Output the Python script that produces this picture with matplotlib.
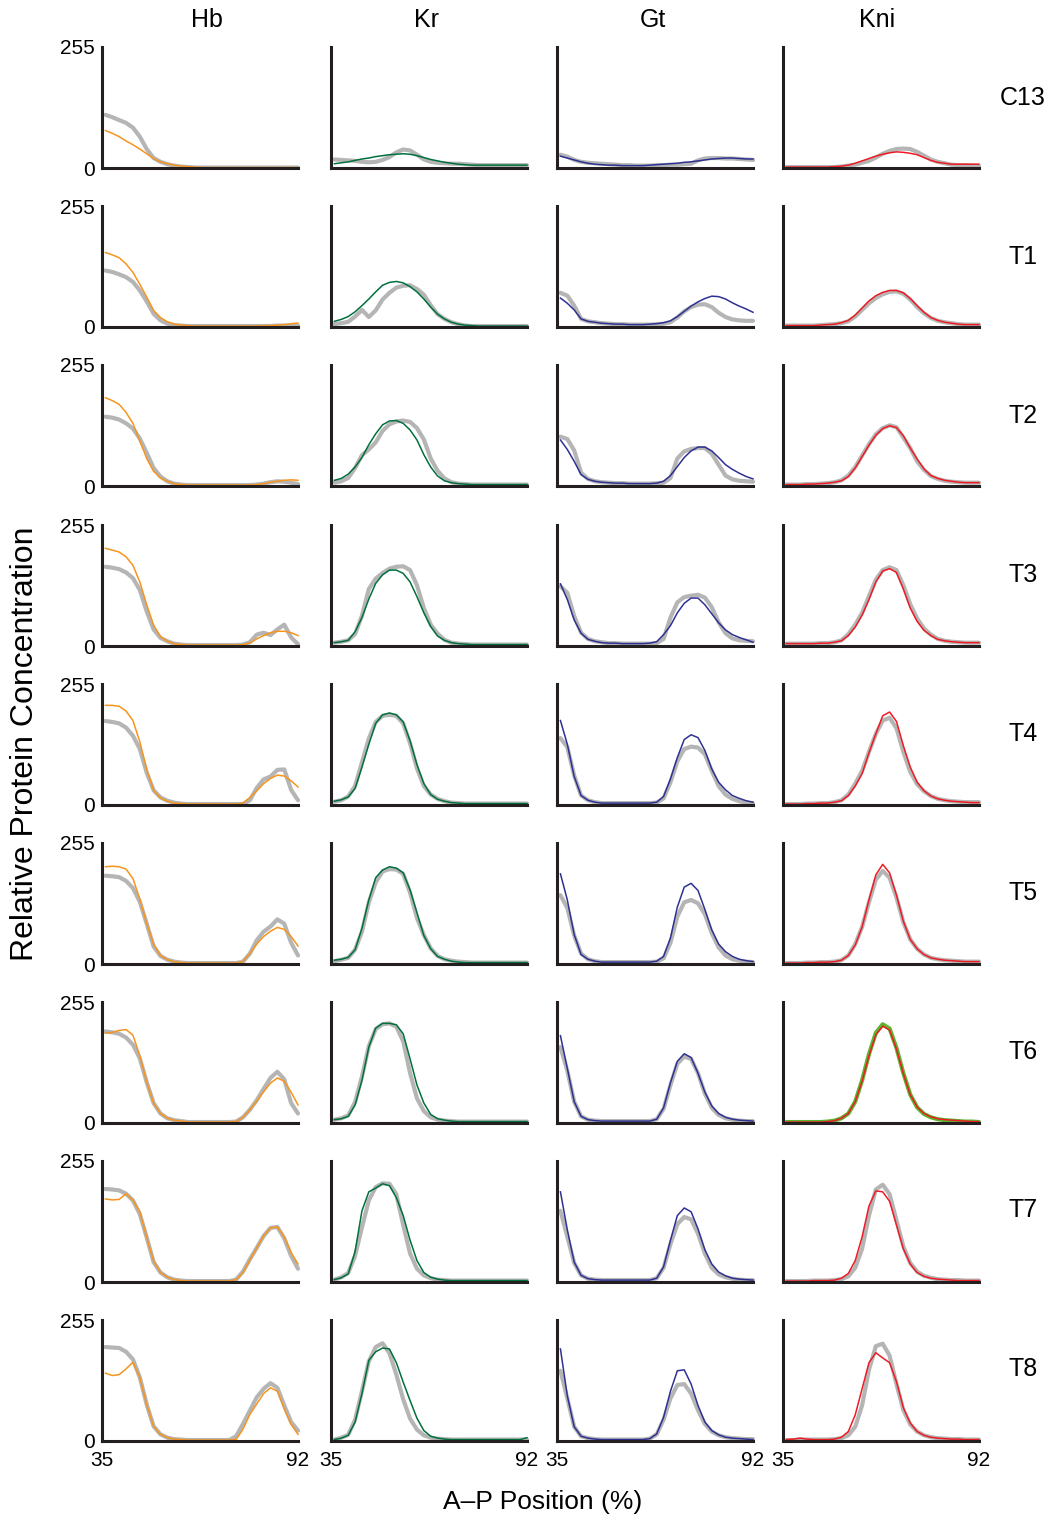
import matplotlib
matplotlib.use("Agg")
import matplotlib.pyplot as plt

plt.rcParams["font.family"] = ["Liberation Sans", "DejaVu Sans"]

# A-P position (%) of the sampled points
POS = [36, 38, 40, 42, 44, 46, 48, 50, 52, 54, 56, 58, 60, 62, 64,
       66, 68, 70, 72, 74, 76, 78, 80, 82, 84, 86, 88, 90, 92]

STAGES = ["C13", "T1", "T2", "T3", "T4", "T5", "T6", "T7", "T8"]
GENES = ["Hb", "Kr", "Gt", "Kni"]

# measured data (gray) and model output (coloured), one list per stage
HB_DATA = {
    "C13": [112, 107, 101, 95, 85, 66, 40, 21, 13, 8, 5, 3, 2, 1, 1, 1, 1, 1, 1, 1, 1, 1, 1, 1, 1, 1, 1, 1, 1],
    "T1": [119, 116, 111, 105, 95, 77, 54, 28, 14, 7, 4, 3, 2, 2, 2, 2, 2, 2, 2, 2, 2, 2, 2, 2, 2, 3, 3, 3, 3],
    "T2": [146, 144, 140, 132, 121, 100, 70, 38, 20, 10, 5, 3, 2, 2, 2, 2, 2, 2, 2, 2, 2, 2, 3, 5, 8, 10, 9, 7, 4],
    "T3": [167, 165, 162, 155, 143, 118, 73, 35, 17, 10, 5, 3, 2, 2, 2, 2, 2, 2, 2, 2, 3, 8, 24, 28, 23, 35, 45, 18, 4],
    "T4": [177, 175, 172, 163, 146, 118, 68, 31, 16, 9, 5, 3, 2, 2, 2, 2, 2, 2, 2, 2, 2, 10, 36, 54, 60, 74, 75, 32, 10],
    "T5": [186, 185, 183, 175, 160, 131, 85, 37, 17, 9, 5, 3, 2, 2, 2, 2, 2, 2, 2, 2, 5, 22, 50, 68, 79, 94, 85, 45, 18],
    "T6": [193, 191, 188, 180, 165, 136, 86, 42, 20, 10, 6, 4, 2, 2, 2, 2, 2, 2, 2, 3, 12, 28, 48, 72, 95, 108, 92, 42, 20],
    "T7": [196, 195, 193, 186, 172, 143, 94, 42, 20, 10, 5, 3, 2, 2, 2, 2, 2, 2, 2, 5, 22, 48, 72, 97, 114, 116, 92, 55, 28],
    "T8": [198, 197, 196, 188, 172, 134, 77, 31, 14, 7, 4, 3, 2, 2, 2, 2, 2, 2, 2, 10, 36, 64, 92, 110, 122, 112, 75, 40, 22],
}
HB_MODEL = {
    "C13": [79, 73, 66, 57, 49, 40, 30, 20, 13, 9, 6, 4, 3, 2, 1, 1, 1, 1, 1, 1, 1, 1, 1, 1, 1, 1, 1, 1, 1],
    "T1": [157, 152, 146, 133, 115, 90, 63, 35, 20, 11, 6, 4, 3, 2, 2, 2, 2, 2, 2, 2, 2, 2, 2, 3, 3, 4, 5, 7, 8],
    "T2": [186, 180, 172, 155, 132, 95, 58, 31, 17, 10, 5, 3, 2, 2, 2, 2, 2, 2, 2, 2, 2, 2, 3, 5, 8, 10, 12, 13, 12],
    "T3": [206, 202, 198, 188, 170, 135, 87, 44, 20, 10, 5, 3, 2, 2, 2, 2, 2, 2, 2, 2, 3, 6, 15, 22, 28, 31, 31, 28, 22],
    "T4": [210, 210, 208, 198, 178, 133, 75, 31, 15, 8, 4, 3, 2, 2, 2, 2, 2, 2, 2, 2, 4, 16, 30, 45, 56, 63, 61, 51, 38],
    "T5": [205, 206, 205, 200, 180, 137, 85, 42, 18, 9, 5, 3, 2, 2, 2, 2, 2, 2, 2, 2, 5, 22, 42, 58, 69, 77, 73, 58, 38],
    "T6": [189, 191, 195, 197, 185, 142, 86, 42, 20, 10, 6, 4, 2, 2, 2, 2, 2, 2, 2, 3, 12, 28, 46, 66, 84, 95, 88, 65, 38],
    "T7": [175, 173, 174, 186, 172, 148, 94, 45, 20, 10, 5, 3, 2, 2, 2, 2, 2, 2, 2, 5, 20, 46, 72, 97, 114, 116, 95, 62, 38],
    "T8": [143, 138, 140, 152, 166, 134, 77, 31, 14, 7, 4, 3, 2, 2, 2, 2, 2, 2, 2, 3, 25, 56, 78, 100, 112, 105, 68, 35, 14],
}

KR_DATA = {
    "C13": [18, 17, 16, 15, 13, 12, 13, 17, 23, 33, 39, 37, 28, 18, 13, 11, 10, 9, 9, 8, 7, 6, 6, 6, 6, 6, 6, 6, 6],
    "T1": [6, 8, 11, 22, 36, 21, 35, 58, 72, 83, 87, 88, 80, 68, 46, 27, 17, 10, 6, 3, 2, 2, 2, 2, 2, 2, 2, 2, 2],
    "T2": [7, 10, 17, 38, 65, 77, 92, 116, 130, 136, 138, 135, 122, 98, 58, 32, 16, 8, 5, 4, 3, 3, 3, 3, 3, 3, 3, 3, 3],
    "T3": [7, 9, 12, 25, 64, 120, 142, 154, 163, 167, 168, 160, 128, 80, 45, 26, 13, 7, 5, 4, 3, 3, 3, 3, 3, 3, 3, 3, 3],
    "T4": [7, 10, 18, 40, 90, 140, 175, 188, 190, 188, 172, 130, 77, 40, 22, 13, 8, 5, 4, 3, 3, 3, 3, 3, 3, 3, 3, 3, 3],
    "T5": [6, 9, 13, 30, 68, 130, 172, 195, 200, 199, 190, 150, 97, 61, 33, 17, 10, 7, 5, 4, 3, 3, 3, 3, 3, 3, 3, 3, 3],
    "T6": [7, 10, 16, 44, 98, 162, 198, 208, 210, 203, 172, 105, 52, 25, 12, 7, 5, 4, 3, 3, 3, 3, 3, 3, 3, 3, 3, 3, 3],
    "T7": [5, 10, 19, 55, 115, 172, 200, 208, 207, 185, 120, 60, 28, 14, 8, 5, 4, 3, 3, 3, 3, 3, 3, 3, 3, 3, 3, 3, 3],
    "T8": [3, 7, 13, 45, 105, 168, 198, 206, 185, 140, 88, 47, 24, 12, 7, 5, 4, 3, 3, 3, 3, 3, 3, 3, 3, 3, 3, 3, 3],
}
KR_MODEL = {
    "C13": [9, 11, 13, 16, 19, 21, 24, 26, 28, 29, 30, 29, 26, 22, 18, 15, 12, 10, 8, 7, 6, 6, 6, 6, 6, 6, 6, 6, 6],
    "T1": [12, 16, 22, 32, 45, 59, 74, 88, 94, 96, 93, 85, 74, 59, 42, 27, 17, 10, 6, 4, 3, 2, 2, 2, 2, 2, 2, 2, 2],
    "T2": [12, 16, 25, 40, 60, 87, 110, 129, 137, 138, 132, 118, 97, 66, 40, 21, 11, 7, 5, 4, 3, 3, 3, 3, 3, 3, 3, 3, 3],
    "T3": [7, 9, 12, 30, 60, 99, 132, 150, 160, 160, 153, 135, 104, 70, 41, 21, 12, 7, 5, 4, 3, 3, 3, 3, 3, 3, 3, 3, 3],
    "T4": [8, 11, 17, 35, 80, 128, 172, 190, 194, 190, 175, 135, 85, 45, 22, 12, 8, 5, 4, 3, 3, 3, 3, 3, 3, 3, 3, 3, 3],
    "T5": [8, 10, 14, 30, 75, 135, 182, 198, 205, 202, 192, 156, 108, 60, 32, 16, 10, 6, 4, 3, 3, 3, 3, 3, 3, 3, 3, 3, 3],
    "T6": [7, 9, 14, 38, 90, 160, 200, 210, 210, 207, 188, 135, 80, 42, 18, 9, 6, 4, 3, 3, 3, 3, 3, 3, 3, 3, 3, 3, 3],
    "T7": [5, 9, 17, 64, 150, 190, 198, 207, 203, 178, 140, 88, 45, 20, 10, 6, 4, 3, 3, 3, 3, 3, 3, 3, 3, 3, 3, 3, 3],
    "T8": [3, 6, 12, 40, 100, 170, 188, 196, 194, 165, 124, 85, 48, 22, 10, 6, 4, 3, 3, 3, 3, 3, 3, 3, 3, 3, 3, 3, 7],
}

GT_DATA = {
    "C13": [28, 24, 17, 13, 11, 10, 9, 8, 7, 6, 6, 5, 5, 5, 6, 6, 7, 7, 8, 9, 16, 20, 21, 21, 20, 20, 19, 18, 17],
    "T1": [72, 66, 45, 17, 12, 10, 8, 7, 6, 6, 5, 5, 5, 5, 6, 7, 10, 20, 33, 42, 47, 48, 42, 30, 21, 16, 14, 13, 13],
    "T2": [104, 99, 75, 28, 15, 10, 8, 7, 6, 6, 5, 5, 5, 5, 6, 7, 17, 58, 73, 78, 80, 80, 68, 45, 22, 14, 11, 10, 9],
    "T3": [126, 112, 63, 28, 15, 10, 8, 6, 6, 5, 5, 5, 5, 5, 6, 15, 60, 92, 103, 106, 108, 102, 82, 50, 27, 16, 12, 11, 10],
    "T4": [141, 122, 62, 20, 10, 6, 4, 4, 4, 4, 4, 4, 4, 4, 5, 14, 48, 92, 118, 123, 121, 107, 72, 40, 22, 13, 8, 5, 3],
    "T5": [145, 118, 60, 22, 10, 6, 4, 4, 4, 4, 4, 4, 4, 4, 5, 12, 45, 100, 130, 135, 128, 105, 65, 35, 18, 10, 7, 5, 4],
    "T6": [160, 110, 45, 14, 7, 5, 4, 4, 4, 4, 4, 4, 4, 4, 8, 30, 80, 125, 140, 135, 105, 62, 32, 17, 10, 7, 5, 4, 4],
    "T7": [150, 95, 40, 14, 7, 5, 4, 4, 4, 4, 4, 4, 4, 4, 8, 30, 80, 122, 137, 132, 102, 60, 30, 16, 10, 7, 5, 4, 4],
    "T8": [148, 90, 30, 10, 6, 4, 3, 3, 3, 3, 3, 3, 3, 5, 14, 45, 90, 118, 120, 100, 65, 36, 20, 12, 8, 6, 5, 4, 4],
}
GT_MODEL = {
    "C13": [25, 21, 17, 13, 10, 8, 7, 6, 6, 5, 5, 5, 5, 6, 7, 8, 9, 10, 12, 13, 15, 17, 19, 20, 21, 21, 20, 19, 19],
    "T1": [61, 50, 36, 17, 12, 10, 8, 7, 6, 6, 5, 5, 5, 6, 7, 9, 13, 22, 33, 44, 53, 60, 65, 64, 59, 51, 44, 38, 31],
    "T2": [97, 77, 52, 24, 14, 10, 8, 7, 6, 6, 5, 5, 5, 5, 6, 10, 22, 41, 60, 74, 82, 82, 74, 60, 45, 35, 27, 20, 15],
    "T3": [131, 98, 55, 27, 14, 10, 7, 6, 6, 5, 5, 5, 5, 6, 9, 24, 43, 70, 90, 101, 101, 87, 68, 49, 34, 24, 18, 13, 8],
    "T4": [178, 128, 60, 20, 10, 6, 4, 4, 4, 4, 4, 4, 4, 4, 6, 18, 55, 100, 138, 148, 142, 115, 76, 48, 32, 20, 14, 9, 6],
    "T5": [190, 135, 62, 20, 10, 6, 4, 4, 4, 4, 4, 4, 4, 4, 6, 16, 55, 120, 162, 170, 155, 115, 72, 42, 26, 16, 10, 7, 5],
    "T6": [184, 115, 45, 14, 7, 5, 4, 4, 4, 4, 4, 4, 4, 4, 8, 32, 85, 130, 146, 138, 105, 65, 36, 20, 12, 8, 6, 5, 4],
    "T7": [190, 110, 42, 14, 7, 5, 4, 4, 4, 4, 4, 4, 4, 4, 8, 32, 88, 140, 156, 148, 112, 68, 38, 21, 13, 8, 6, 5, 4],
    "T8": [194, 95, 30, 10, 6, 4, 3, 3, 3, 3, 3, 3, 3, 5, 15, 50, 105, 148, 150, 120, 75, 40, 22, 13, 8, 6, 5, 4, 3],
}

KNI_DATA = {
    "C13": [2, 2, 2, 2, 2, 2, 2, 2, 3, 5, 7, 11, 15, 22, 30, 36, 40, 41, 40, 34, 26, 18, 13, 10, 7, 6, 6, 5, 4],
    "T1": [3, 3, 3, 3, 3, 4, 5, 6, 8, 12, 22, 36, 50, 61, 69, 74, 75, 70, 58, 42, 29, 19, 13, 10, 8, 6, 5, 5, 5],
    "T2": [3, 3, 3, 4, 4, 5, 6, 8, 12, 22, 40, 64, 88, 109, 122, 128, 124, 102, 80, 52, 34, 21, 15, 11, 9, 8, 7, 7, 7],
    "T3": [5, 5, 5, 5, 5, 6, 6, 8, 12, 25, 45, 70, 105, 140, 160, 166, 160, 128, 88, 58, 37, 24, 15, 11, 9, 8, 7, 7, 7],
    "T4": [2, 2, 2, 3, 3, 4, 4, 6, 10, 22, 45, 72, 112, 150, 178, 184, 162, 112, 70, 44, 29, 19, 13, 10, 8, 7, 6, 6, 6],
    "T5": [2, 2, 2, 3, 3, 4, 4, 5, 8, 18, 42, 78, 130, 178, 196, 182, 140, 88, 52, 32, 20, 13, 10, 8, 7, 6, 5, 5, 5],
    "T6": [2, 2, 2, 2, 2, 2, 3, 5, 10, 20, 45, 90, 145, 190, 208, 199, 158, 105, 60, 33, 19, 12, 8, 6, 5, 4, 3, 3, 2],
    "T7": [2, 2, 2, 2, 3, 3, 3, 4, 6, 12, 30, 70, 140, 195, 205, 185, 130, 75, 40, 22, 13, 9, 6, 5, 4, 4, 3, 3, 3],
    "T8": [2, 2, 3, 3, 3, 3, 3, 4, 6, 12, 30, 75, 150, 200, 205, 180, 120, 65, 35, 20, 12, 8, 6, 5, 4, 4, 3, 3, 3],
}
KNI_MODEL = {
    "C13": [2, 2, 2, 2, 2, 2, 2, 3, 4, 6, 10, 15, 20, 25, 29, 32, 34, 33, 31, 28, 22, 16, 12, 10, 8, 8, 8, 8, 8],
    "T1": [3, 3, 3, 3, 3, 4, 5, 6, 9, 14, 25, 40, 55, 66, 73, 77, 77, 72, 60, 45, 31, 20, 14, 10, 8, 6, 5, 5, 5],
    "T2": [3, 3, 3, 4, 4, 5, 6, 8, 11, 20, 38, 62, 86, 107, 121, 127, 123, 106, 80, 57, 36, 22, 16, 12, 10, 8, 7, 7, 7],
    "T3": [5, 5, 5, 5, 5, 6, 6, 8, 11, 22, 40, 65, 98, 135, 158, 163, 155, 120, 80, 52, 33, 22, 14, 11, 9, 8, 7, 7, 7],
    "T4": [2, 2, 2, 3, 3, 4, 4, 6, 9, 20, 40, 66, 110, 150, 188, 196, 176, 125, 80, 48, 30, 19, 13, 10, 8, 7, 6, 5, 5],
    "T5": [2, 2, 2, 3, 3, 4, 4, 5, 8, 18, 40, 78, 135, 188, 210, 192, 145, 90, 52, 32, 20, 13, 10, 8, 7, 6, 5, 5, 5],
    "T6": [2, 2, 2, 2, 2, 2, 3, 5, 10, 20, 45, 88, 142, 186, 204, 196, 156, 104, 60, 34, 20, 13, 9, 7, 6, 5, 4, 3, 3],
    "T7": [2, 2, 2, 2, 3, 3, 3, 4, 8, 18, 45, 95, 160, 192, 190, 170, 120, 70, 38, 20, 12, 8, 6, 5, 4, 3, 3, 3, 3],
    "T8": [3, 4, 6, 4, 3, 3, 3, 4, 8, 20, 55, 110, 165, 186, 175, 165, 125, 70, 38, 20, 12, 8, 6, 5, 4, 4, 3, 3, 3],
}

DATA = {"Hb": HB_DATA, "Kr": KR_DATA, "Gt": GT_DATA, "Kni": KNI_DATA}
MODEL = {"Hb": HB_MODEL, "Kr": KR_MODEL, "Gt": GT_MODEL, "Kni": KNI_MODEL}
COLORS = {"Hb": "#f7941d", "Kr": "#00703c", "Gt": "#2e3192", "Kni": "#ed1c24"}
GRAY = "#b5b5b5"


def main():
    W, H = 1055, 1522
    fig = plt.figure(figsize=(W / 100, H / 100), dpi=100)

    col_left = [102, 331, 557, 783]
    row_top = [47, 206, 365, 525, 684, 843, 1002, 1161, 1320]
    pw, ph = 196, 121

    for r, stage in enumerate(STAGES):
        for c, gene in enumerate(GENES):
            ax = fig.add_axes([col_left[c] / W, 1 - (row_top[r] + ph) / H, pw / W, ph / H])
            data_col = GRAY
            if gene == "Kni" and stage == "T6":
                data_col = "#5cb531"
            ax.plot(POS, DATA[gene][stage], color=data_col, lw=3.0,
                    solid_capstyle="round", solid_joinstyle="round", clip_on=False)
            ax.plot(POS, MODEL[gene][stage], color=COLORS[gene], lw=1.1,
                    solid_joinstyle="round", clip_on=False)
            ax.set_xlim(35, 92)
            ax.set_ylim(0, 255)
            for s in ["top", "right"]:
                ax.spines[s].set_visible(False)
            for s in ["left", "bottom"]:
                ax.spines[s].set_linewidth(2.2)
                ax.spines[s].set_color("#231f20")
            ax.tick_params(length=0, labelsize=15, pad=5)
            if c == 0:
                ax.set_yticks([0, 255])
                ax.set_yticklabels(["0", "255"])
            else:
                ax.set_yticks([])
            if r == len(STAGES) - 1:
                ax.set_xticks([35, 92])
                ax.set_xticklabels(["35", "92"])
                ax.tick_params(axis="x", pad=7)
            else:
                ax.set_xticks([])

    # column headers and stage labels
    header_x = [207, 427, 653, 877]
    for gene, hx in zip(GENES, header_x):
        fig.text(hx / W, 1 - 20 / H, gene, fontsize=18, ha="center", va="center")
    label_y = [98, 257, 416, 575, 734, 893, 1052, 1210, 1369]
    for stage, ly in zip(STAGES, label_y):
        fig.text(1023 / W, 1 - ly / H, stage, fontsize=18, ha="center", va="center")

    fig.text(25 / W, 1 - 744 / H, "Relative Protein Concentration", fontsize=23,
             rotation=90, ha="center", va="center")
    fig.text(543 / W, 1 - 1502 / H, "A\u2013P Position (%)", fontsize=19,
             ha="center", va="center")

    fig.savefig("out.png", dpi=100)


if __name__ == "__main__":
    main()
